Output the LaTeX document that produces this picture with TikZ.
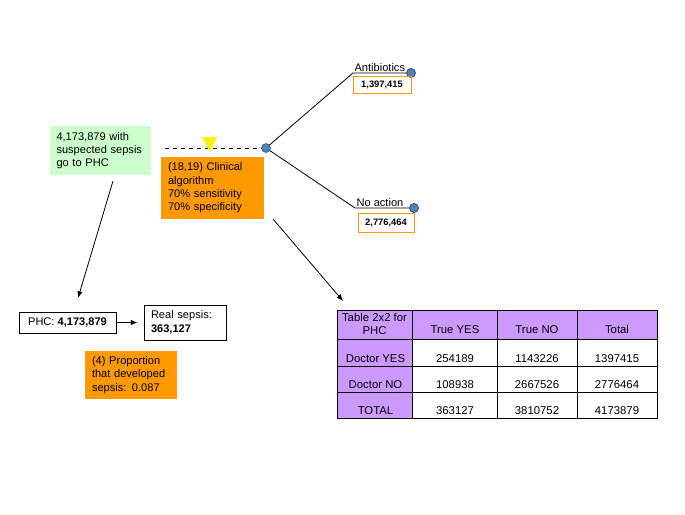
\documentclass[tikz,border=0pt]{standalone}
\usepackage{fontspec}
\setmainfont{Liberation Sans}
\usepackage{xcolor}
\usetikzlibrary{positioning, arrows.meta}
\definecolor{notegreen}{HTML}{CCFFCC}
\definecolor{noteorange}{HTML}{FF9900}
\definecolor{cellpurple}{HTML}{CC99FF}
\definecolor{dotblue}{HTML}{4F81BD}

\begin{document}
\begin{tikzpicture}[
    x=0.75pt, y=-0.75pt,
    note/.style={rectangle, fill=#1, align=left, font=\fontsize{8.3}{10}\selectfont, inner xsep=5.25pt, inner ysep=0pt},
    plainbox/.style={rectangle, draw, line width=0.75pt, align=left, font=\fontsize{8.3}{10.5}\selectfont, inner xsep=5.25pt, inner ysep=0pt},
    valbox/.style={rectangle, draw=noteorange, line width=0.75pt, font=\fontsize{7}{8}\selectfont\bfseries, inner sep=0pt},
    chance/.style={circle, fill=dotblue, draw=dotblue!60!black, minimum size=6.75pt, inner sep=0pt},
    lbl/.style={font=\fontsize{8.3}{10}\selectfont, inner sep=1pt},
    cell/.style={anchor=base, font=\fontsize{8.5}{9.75}\selectfont, inner sep=0pt},
    arr/.style={-{Latex[length=5pt, width=4pt]}, line width=0.6pt},
    branch/.style={line width=0.6pt},
]
\useasboundingbox (0,0) rectangle (685,514);

\node[note=notegreen, text width=66pt, inner xsep=4.9pt, minimum height=36.75pt] (suspected) at (100.5,150.5) {4,173,879 with\\suspected sepsis\\go to PHC};
\node[note=noteorange, text width=66.75pt, minimum height=46.5pt] (algorithm) at (212.5,188) {(18,19) Clinical\\algorithm\\70\% sensitivity\\70\% specificity};

\coordinate (dashStart) at (165,148);
\node[chance] (split) at (266,148) {};
\draw[dashed, line width=0.6pt] (dashStart) -- (split);
\fill[yellow] (202,137) -- (217,137) -- (209.5,152) -- cycle;

\coordinate (abStart) at (353,73);
\coordinate (naStart) at (355,208);
\draw[branch] (split) -- (abStart) -- (411,73) node[chance] (abDot) {};
\draw[branch] (split) -- (naStart) -- (414,208) node[chance] (naDot) {};
\node[lbl, anchor=south west] (antibiotics) at (abStart) {Antibiotics};
\node[lbl, anchor=south west] (noaction) at (naStart) {No action};
\node[valbox, minimum width=43.5pt, minimum height=12.75pt] (abValue) at (382,85) {1,397,415};
\node[valbox, minimum width=42pt, minimum height=14.25pt] (naValue) at (386,222.5) {2,776,464};

\node[plainbox, align=center, minimum width=72.75pt, minimum height=15.75pt] (phc) at (67.5,322.5) {PHC: \textbf{4,173,879}};
\node[plainbox, text width=51pt, minimum height=26.25pt] (sepsis) at (185,322.5) {Real sepsis:\\\textbf{363,127}};
\node[note=noteorange, text width=58.5pt, minimum height=36pt] (proportion) at (131,375) {(4) Proportion\\that developed\\sepsis: 0.087};

\coordinate (susTail) at (113,181);
\coordinate (phcHead) at (78,298);
\coordinate (algTail) at (273,219);
\coordinate (tableHead) at (343,301);
\draw[arr] (susTail) -- (phcHead);
\draw[arr, shorten >=4.5pt] (phc.east) -- (sepsis.west);
\draw[arr] (algTail) -- (tableHead);

\fill[cellpurple] (337,310) rectangle (657,339);
\fill[cellpurple] (337,339) rectangle (412,418);
\draw[line width=0.75pt] (337,310) rectangle (657,418);
\foreach \yy in {339,366,392}
    \draw[line width=0.75pt] (337,\yy) -- (657,\yy);
\foreach \xx in {412,497,577}
    \draw[line width=0.75pt] (\xx,310) -- (\xx,418);

\node[cell, anchor=center, align=center] (corner) at (374.5,324) {Table 2x2 for\\PHC};
\node[cell] (trueYes) at (455,333.5) {True YES};
\node[cell] (trueNo) at (537,333.5) {True NO};
\node[cell] (total) at (617,333.5) {Total};
\foreach \r/\yy/\rowname/\a/\b/\c in {1/362.5/Doctor YES/254189/1143226/1397415, 2/388/Doctor NO/108938/2667526/2776464, 3/414/TOTAL/363127/3810752/4173879} {
    \node[cell] (row\r) at (375.5,\yy) {\rowname};
    \node[cell] (yes\r) at (455,\yy) {\a};
    \node[cell] (no\r) at (537,\yy) {\b};
    \node[cell] (sum\r) at (617,\yy) {\c};
}

\end{tikzpicture}
\end{document}
